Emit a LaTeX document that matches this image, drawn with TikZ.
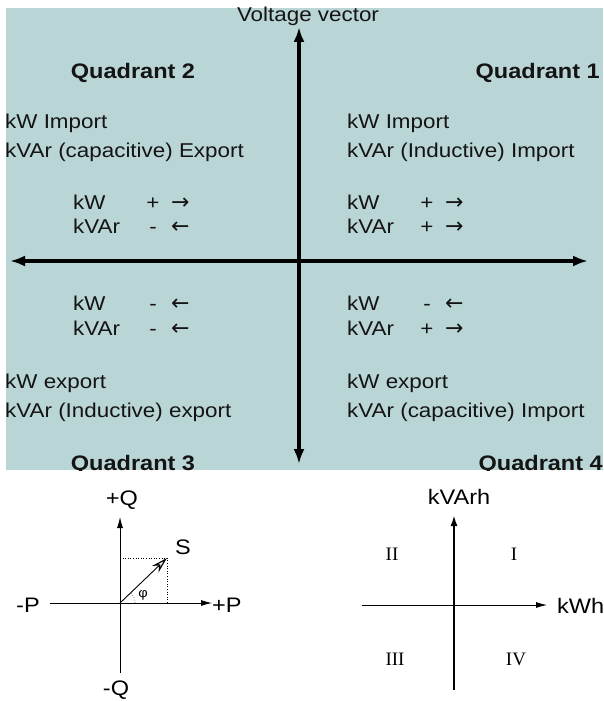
\documentclass[tikz,border=0pt]{standalone}
\usepackage{fontspec}
\setmainfont{Liberation Sans}[FakeStretch=1.12]
\newfontfamily\romanfont{Liberation Serif}
\newfontfamily\arrowfont{DejaVu Sans}
\definecolor{quadbg}{RGB}{186,213,214}
\definecolor{quadink}{RGB}{20,20,20}
\usetikzlibrary{arrows.meta,calc}

\begin{document}
\begin{tikzpicture}[x=1pt, y=-1pt, >=Latex,
  qtitle/.style={font=\fontsize{21}{25}\selectfont\bfseries, text=quadink, inner sep=0pt, anchor=base},
  qtext/.style={font=\fontsize{20}{24}\selectfont, text=quadink, inner sep=0pt, anchor=base west},
  axlbl/.style={font=\fontsize{21}{25}\selectfont, inner sep=0pt},
  numlbl/.style={font=\romanfont\fontsize{19}{23}\selectfont, inner sep=0pt}]
\useasboundingbox (0,0) rectangle (603,701);

% top panel: four quadrants of the meter
\fill[quadbg] (6,8) rectangle (603,470);
\begin{scope}
\clip (6,8) rectangle (603,470);
\node[qtitle] (q2) at (133,78) {Quadrant 2};
\node[qtitle, anchor=base east] (q1) at (600,78) {Quadrant 1};
\node[qtitle] (q3) at (133,470) {Quadrant 3};
\node[qtitle, anchor=base east] (q4) at (603,470) {Quadrant 4};
\end{scope}
\node[qtext, anchor=base, font=\fontsize{20}{24}\selectfont] (vvec) at (308,22) {Voltage vector};

\foreach \idx/\x/\y/\txt in {%
1/5/128/kW Import, 2/5/157/kVAr (capacitive) Export,%
3/347/128/kW Import, 4/347/157/kVAr (Inductive) Import,%
5/5/388/kW export, 6/5/417/kVAr (Inductive) export,%
7/347/388/kW export, 8/347/417/kVAr (capacitive) Import%
}{
  \node[qtext] (desc\idx) at (\x,\y) {\txt};
}

\foreach \idx/\x/\y/\name/\sgn/\dir in {%
1/73/209/kW/+/→, 2/73/233/kVAr/-/←,%
3/347/209/kW/+/→, 4/347/233/kVAr/+/→,%
5/73/310/kW/-/←, 6/73/335/kVAr/-/←,%
7/347/310/kW/-/←, 8/347/335/kVAr/+/→%
}{
  \node[qtext] (row\idx) at (\x,\y) {\name};
  \node[qtext, anchor=base] (sgn\idx) at (\x+80,\y) {\sgn};
  \node[qtext, font=\arrowfont\fontsize{22}{26}\selectfont] (dir\idx) at (\x+98,\y) {\dir};
}

\coordinate (vtop) at (299,27);
\coordinate (vbot) at (299,464);
\coordinate (hleft) at (10,261);
\coordinate (hright) at (588,261);
\draw[line width=3.5pt, {Latex[length=15pt,width=11pt]}-{Latex[length=15pt,width=11pt]}] (vbot) -- (vtop);
\draw[line width=3.5pt, {Latex[length=15pt,width=11pt]}-{Latex[length=15pt,width=11pt]}] (hleft) -- (hright);

% bottom left: power triangle
\coordinate (po) at (120,603);
\coordinate (pleft) at (50,603);
\coordinate (pright) at (212,603);
\coordinate (qtop) at (120,517);
\coordinate (qbot) at (120,673);
\coordinate (stip) at (167,558);
\draw[line width=0.8pt, -{Latex[length=11pt,width=6pt]}] (pleft) -- (pright);
\draw[line width=0.8pt, -{Latex[length=11pt,width=6pt]}] (qbot) -- (qtop);
\draw[line width=0.6pt, dotted] (po |- stip) -- (stip) -- (stip |- po);
\draw[line width=0.6pt, dotted] ($(po)+(15,0)$) arc[start angle=0, end angle=-45, radius=15];
\draw[line width=0.9pt, -{Stealth[open, length=16pt, width=9pt, inset=5pt, line width=1.2pt]}] (po) -- (stip);
\node[axlbl] (lq1) at (122,500) {+Q};
\node[axlbl] (lq2) at (116,690) {-Q};
\node[axlbl] (lp1) at (28,605) {-P};
\node[axlbl, anchor=west] (lp2) at (212,605) {+P};
\node[axlbl] (ls) at (183,547) {S};
\node[inner sep=0pt, font=\fontsize{13}{15}\selectfont] (lphi) at (143,595) {φ};

% bottom right: energy quadrants
\coordinate (eo) at (454,605);
\coordinate (eleft) at (362,605);
\coordinate (eright) at (547,605);
\coordinate (etop) at (454,515);
\coordinate (ebot) at (454,690);
\draw[line width=0.8pt, -{Latex[length=11pt,width=6pt]}] (eleft) -- (eright);
\draw[line width=2pt, -{Latex[length=11pt,width=7pt]}] (ebot) -- (etop);
\node[axlbl] (lkvarh) at (459,497) {kVArh};
\node[axlbl, anchor=west] (lkwh) at (557,606) {kWh};
\foreach \idx/\x/\y/\num in {1/514/554/I, 2/392/554/II, 3/395/659/III, 4/516/659/IV}{
  \node[numlbl] (rn\idx) at (\x,\y) {\num};
}
\end{tikzpicture}
\end{document}
